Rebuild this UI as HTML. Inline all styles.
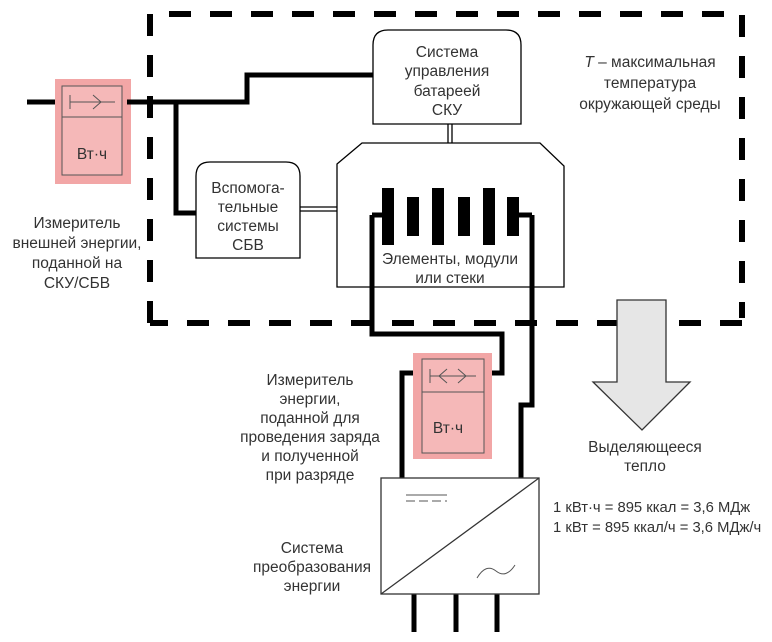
<!DOCTYPE html>
<html><head><meta charset="utf-8"><style>
html,body{margin:0;padding:0;background:#fff;}
svg{display:block;}
text{font-family:"Liberation Sans",sans-serif;font-size:15.5px;fill:#333;}
</style></head><body>
<svg width="772" height="642" viewBox="0 0 772 642" xmlns="http://www.w3.org/2000/svg">
<path d="M150,323 L150,14 L742,14 L742,318 M742,323 L150,323" fill="none" stroke="#000" stroke-width="6" stroke-dasharray="22,19"/>
<rect x="55" y="79" width="76" height="105" fill="#f2a6a6"/>
<rect x="62" y="86" width="60" height="89" fill="#f5b8b8" stroke="#555" stroke-width="1"/>
<line x1="62" y1="117" x2="122" y2="117" stroke="#555"/>
<path d="M70,95 V109 M70,102 H115 M93,95 L101,102 L93,109" fill="none" stroke="#555"/>
<text x="92" y="159" text-anchor="middle">Вт·ч</text>
<g fill="none" stroke="#000" stroke-width="5">
<path d="M27,102 H55"/>
<path d="M127,102 H247 V75 H373"/>
<path d="M176,102 V213 H196"/>
<path d="M382,215 H372 V334 H502 V373 H492"/>
<path d="M519,215 H532 V405 H521 V478"/>
<path d="M413,373 H402 V478"/>
<path d="M414,594 V632 M456,594 V632 M497,594 V632"/>
</g>
<path d="M300,207 H337 M300,211 H337" stroke="#000" stroke-width="1.3"/>
<path d="M448,124 V143 M452,124 V143" stroke="#000" stroke-width="1.3"/>
<path d="M373,124 V45 Q373,30 388,30 H506 Q521,30 521,45 V124 Z" fill="#fff" stroke="#000" stroke-width="1.3"/>
<text x="447" y="57" text-anchor="middle">Система</text>
<text x="447" y="76" text-anchor="middle">управления</text>
<text x="447" y="96" text-anchor="middle">батареей</text>
<text x="447" y="115" text-anchor="middle">СКУ</text>
<path d="M196,258 V176 Q196,162 210,162 H286 Q300,162 300,176 V258 Z" fill="#fff" stroke="#000" stroke-width="1.3"/>
<text x="248" y="193" text-anchor="middle">Вспомога-</text>
<text x="248" y="212" text-anchor="middle">тельные</text>
<text x="248" y="231" text-anchor="middle">системы</text>
<text x="248" y="250" text-anchor="middle">СБВ</text>
<polygon points="337,164 362,143 540,143 564,166 564,287 337,287" fill="#fff" stroke="#000" stroke-width="1.3"/>
<g fill="#000">
<rect x="382" y="188" width="12" height="57"/>
<rect x="407" y="197" width="12" height="39"/>
<rect x="432" y="188" width="12" height="57"/>
<rect x="458" y="197" width="12" height="39"/>
<rect x="483" y="188" width="12" height="57"/>
<rect x="507" y="197" width="12" height="39"/>
</g>
<path d="M372,215 V300 M532,215 V300 M382,215 H372 M519,215 H532" stroke="#000" stroke-width="5"/>
<text x="450" y="264" text-anchor="middle">Элементы, модули</text>
<text x="450" y="283" text-anchor="middle">или стеки</text>
<text x="650" y="67" text-anchor="middle"><tspan font-style="italic">T</tspan> – максимальная</text>
<text x="650" y="88" text-anchor="middle">температура</text>
<text x="650" y="109" text-anchor="middle">окружающей среды</text>
<text x="77" y="228" text-anchor="middle">Измеритель</text>
<text x="77" y="248" text-anchor="middle">внешней энергии,</text>
<text x="77" y="268" text-anchor="middle">поданной на</text>
<text x="77" y="288" text-anchor="middle">СКУ/СБВ</text>
<rect x="413" y="353" width="79" height="106" fill="#f2a6a6"/>
<rect x="422" y="359" width="62" height="94" fill="#f5b8b8" stroke="#555" stroke-width="1"/>
<line x1="422" y1="392" x2="484" y2="392" stroke="#555"/>
<path d="M430,369 V383 M430,376 H476 M447,369 L439,376 L447,383 M458,369 L466,376 L458,383" fill="none" stroke="#555"/>
<text x="448" y="433" text-anchor="middle">Вт·ч</text>
<text x="310" y="385" text-anchor="middle">Измеритель</text>
<text x="310" y="404" text-anchor="middle">энергии,</text>
<text x="310" y="423" text-anchor="middle">поданной для</text>
<text x="310" y="442" text-anchor="middle">проведения заряда</text>
<text x="310" y="461" text-anchor="middle">и полученной</text>
<text x="310" y="480" text-anchor="middle">при разряде</text>
<rect x="381" y="478" width="158" height="116" fill="#fff" stroke="#333" stroke-width="1.3"/>
<line x1="381" y1="594" x2="539" y2="478" stroke="#333" stroke-width="1.3"/>
<path d="M406,495 H447" stroke="#555"/>
<path d="M406,501 H447" stroke="#555" stroke-dasharray="9,4"/>
<path d="M477,578 Q486,563 496,571 Q506,579 515,565" fill="none" stroke="#555"/>
<text x="312" y="553" text-anchor="middle">Система</text>
<text x="312" y="572" text-anchor="middle">преобразования</text>
<text x="312" y="591" text-anchor="middle">энергии</text>
<polygon points="617,300 666,300 666,382 690,382 642,430 593,382 617,382" fill="#e6e6e6" stroke="#333" stroke-width="1.3"/>
<text x="645" y="452" text-anchor="middle">Выделяющееся</text>
<text x="645" y="471" text-anchor="middle">тепло</text>
<text x="553" y="512" style="font-size:14.8px">1 кВт·ч = 895 ккал = 3,6 МДж</text>
<text x="553" y="532" style="font-size:14.8px">1 кВт = 895 ккал/ч = 3,6 МДж/ч</text>
</svg>
</body></html>
